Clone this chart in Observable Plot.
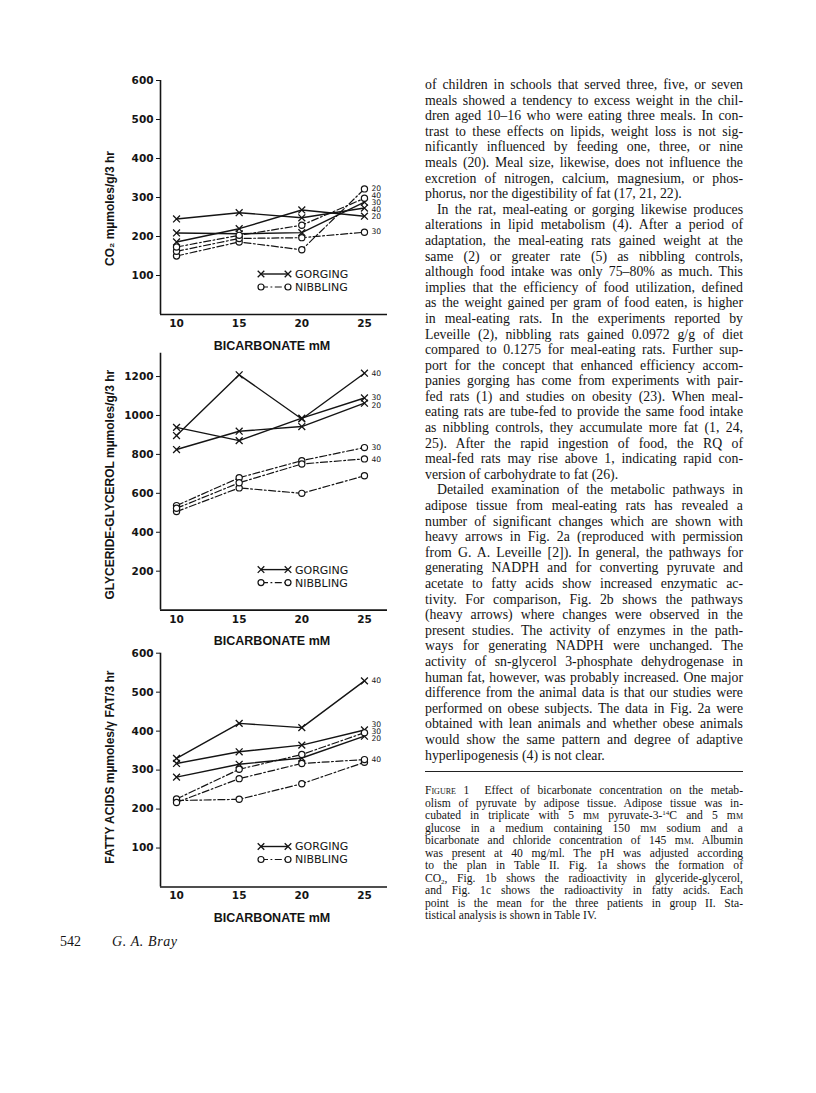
<!DOCTYPE html>
<html><head><meta charset="utf-8">
<script src="https://cdn.jsdelivr.net/npm/d3@7"></script>
<script src="https://cdn.jsdelivr.net/npm/@observablehq/plot@0.6"></script>
<style>
html,body{margin:0;padding:0;background:#fff;}
#page{position:relative;width:816px;height:1093px;overflow:hidden;background:#fff;color:#141414;}
.panel{position:absolute;left:70px;}
.col{position:absolute;left:425px;width:318px;font-family:"Liberation Serif","Times New Roman",serif;color:#141414;}
#body .ln{height:15.6px;line-height:15.6px;font-size:13.8px;text-align:justify;text-align-last:justify;}
#caption .ln{height:12.5px;line-height:12.5px;font-size:11.6px;text-align:justify;text-align-last:justify;}
.ln.last{text-align-last:left !important;}
.ln.ind{text-indent:12px;}
.sc{font-variant:small-caps;}
#rule{position:absolute;left:425px;width:318px;top:771px;height:0;border-top:1.5px solid #222;}
#footer{position:absolute;top:934px;left:60px;font-family:"Liberation Serif",serif;font-size:14px;color:#141414;}
#footer i{margin-left:31px;letter-spacing:0.6px;}
</style>
</head><body>
<div id="page">
  <div id="pa" class="panel" style="top:60px"></div>
  <div id="pb" class="panel" style="top:340px"></div>
  <div id="pc" class="panel" style="top:640px"></div>
  <div id="body" class="col" style="top:77px"></div>
  <div id="rule"></div>
  <div id="caption" class="col" style="top:785px"></div>
  <div id="footer">542<i>G. A. Bray</i></div>
</div>
<script>
// ---------- data ----------
const bicarbonate = [10, 15, 20, 25];
const xTicks = [10, 15, 20, 25];
const xDomain = [8.72, 26.84];

// Fig 1a  CO2 (mµmoles/g/3 hr)
const co2Gorging20 = [186, 220, 268, 252];
const co2Gorging30 = [209, 207, 210, 288];
const co2Gorging40 = [245, 261, 248, 273];
const co2Nibbling20 = [150, 186, 166, 322];
const co2Nibbling30 = [162, 195, 197, 211];
const co2Nibbling40 = [173, 203, 229, 298];
const co2Ticks = [100, 200, 300, 400, 500, 600];
const co2LabelText = ["20", "40", "30", "40", "20", "30"];
const co2LabelY = [324, 306, 288, 270, 252, 212];

// Fig 1b  glyceride-glycerol
const glyGorging20 = [825, 919, 943, 1063];
const glyGorging30 = [939, 871, 986, 1090];
const glyGorging40 = [897, 1209, 982, 1217];
const glyNibbling20 = [506, 628, 600, 690];
const glyNibbling30 = [537, 680, 768, 835];
const glyNibbling40 = [523, 654, 751, 777];
const glyTicks = [200, 400, 600, 800, 1000, 1200];
const glyLabelText = ["40", "30", "20", "30", "40"];
const glyLabelY = [1214, 1094, 1052, 833, 775];

// Fig 1c  fatty acids
const faGorging20 = [282, 315, 331, 387];
const faGorging30 = [317, 347, 364, 403];
const faGorging40 = [330, 420, 409, 529];
const faNibbling20 = [222, 225, 265, 320];
const faNibbling30 = [226, 302, 340, 396];
const faNibbling40 = [217, 278, 317, 327];
const faTicks = [100, 200, 300, 400, 500, 600];
const faLabelText = ["40", "30", "30", "20", "40"];
const faLabelY = [529, 417, 399, 381, 327];

const legendNames = ["GORGING", "NIBBLING"];
const xLabel = "BICARBONATE mM";

// ---------- helpers ----------
const INK = "#141414";
const DASH = "7,2.5,1.8,2.5";

function rows(values, group, conc) {
  return bicarbonate.map((x, i) => ({x, y: values[i], group, key: group + conc}));
}

function addLegend(svg, ml, fb) {
  const g = d3.select(svg).append("g").attr("fill", "none").attr("stroke", INK);
  legendNames.forEach((name, i) => {
    const y = fb - 40 + i * 13;
    const x1 = ml + 101, x2 = ml + 128;
    g.append("line").attr("x1", x1).attr("x2", x2).attr("y1", y).attr("y2", y)
      .attr("stroke-width", i ? 1.2 : 1.4).attr("stroke-dasharray", i ? DASH : null);
    [x1, x2].forEach(x => {
      if (i === 0) {
        g.append("path").attr("d", d3.symbol(d3.symbolTimes, 30)())
          .attr("transform", `translate(${x},${y})`).attr("stroke-width", 1.3);
      } else {
        g.append("circle").attr("cx", x).attr("cy", y).attr("r", 3)
          .attr("fill", "white").attr("stroke-width", 1.2);
      }
    });
    d3.select(svg).append("text").attr("x", ml + 135).attr("y", y).attr("dy", "0.36em")
      .attr("text-anchor", "start")
      .attr("fill", INK).attr("font-family", "DejaVu Sans, sans-serif").attr("font-size", 11)
      .text(name);
  });
}

function panel(el, cfg) {
  const data = cfg.series.flatMap(s => rows(s[0], s[1], s[2]));
  const gor = data.filter(d => d.group === "G");
  const nib = data.filter(d => d.group === "N");
  const labels = cfg.labelText.map((t, i) => ({x: bicarbonate[bicarbonate.length - 1], y: cfg.labelY[i], text: t}));
  const plot = Plot.plot({
    width: 340,
    height: cfg.height,
    marginLeft: 90,
    marginRight: 23,
    marginTop: cfg.marginTop,
    marginBottom: cfg.marginBottom,
    style: {background: "transparent", fontFamily: "DejaVu Sans, sans-serif", fontSize: "10.5px", color: INK, overflow: "visible"},
    x: {domain: xDomain, ticks: xTicks, tickSize: 0, tickPadding: 5, tickFormat: d => String(d), label: null},
    y: {domain: cfg.yDomain, ticks: cfg.yTicks, tickSize: 4, tickPadding: 3, tickFormat: d => String(d), label: null},
    marks: [
      Plot.ruleX([xDomain[0]], {stroke: INK, strokeWidth: 1.6}),
      Plot.ruleY([cfg.yDomain[0]], {stroke: INK, strokeWidth: 1.6}),
      Plot.line(gor, {x: "x", y: "y", z: "key", stroke: INK, strokeWidth: 1.4}),
      Plot.line(nib, {x: "x", y: "y", z: "key", stroke: INK, strokeWidth: 1.2, strokeDasharray: DASH}),
      Plot.dot(gor, {x: "x", y: "y", symbol: "times", r: 3.2, stroke: INK, strokeWidth: 1.3}),
      Plot.dot(nib, {x: "x", y: "y", r: 3.1, fill: "white", stroke: INK, strokeWidth: 1.2}),
      Plot.text(labels, {x: "x", y: "y", text: "text", dx: 7, textAnchor: "start", fontSize: 7.6, fill: INK}),
      Plot.text([cfg.yLabel], {frameAnchor: "left", textAnchor: "middle", rotate: -90, dx: -50, dy: cfg.yLabelDy,
        fontSize: 12, fontWeight: "bold", fontFamily: "Liberation Sans, Arial, sans-serif", fill: INK}),
      Plot.text([xLabel], {frameAnchor: "bottom", dy: 31, dx: -2, lineAnchor: "middle",
        fontSize: 12.5, fontWeight: "bold", fontFamily: "Liberation Sans Narrow, Liberation Sans, Arial, sans-serif", fill: INK})
    ]
  });
  d3.select(plot).selectAll("g[aria-label='y-axis tick label'] text, g[aria-label='x-axis tick label'] text")
    .attr("font-weight", "bold");
  addLegend(plot, 90, cfg.height - cfg.marginBottom);
  document.getElementById(el).appendChild(plot);
}

panel("pa", {
  series: [[co2Gorging20, "G", 20], [co2Gorging30, "G", 30], [co2Gorging40, "G", 40],
           [co2Nibbling20, "N", 20], [co2Nibbling30, "N", 30], [co2Nibbling40, "N", 40]],
  labelText: co2LabelText, labelY: co2LabelY,
  yDomain: [0, 600], yTicks: co2Ticks, yLabel: "CO\u2082 m\u00b5moles/g/3 hr", yLabelDy: 11,
  height: 300, marginTop: 20, marginBottom: 46
});
panel("pb", {
  series: [[glyGorging20, "G", 20], [glyGorging30, "G", 30], [glyGorging40, "G", 40],
           [glyNibbling20, "N", 20], [glyNibbling30, "N", 30], [glyNibbling40, "N", 40]],
  labelText: glyLabelText, labelY: glyLabelY,
  yDomain: [0, 1320], yTicks: glyTicks, yLabel: "GLYCERIDE-GLYCEROL m\u00b5moles/g/3 hr", yLabelDy: 3,
  height: 315, marginTop: 12.7, marginBottom: 45.4
});
panel("pc", {
  series: [[faGorging20, "G", 20], [faGorging30, "G", 30], [faGorging40, "G", 40],
           [faNibbling20, "N", 20], [faNibbling30, "N", 30], [faNibbling40, "N", 40]],
  labelText: faLabelText, labelY: faLabelY,
  yDomain: [0, 600], yTicks: faTicks, yLabel: "FATTY ACIDS m\u00b5moles/\u03b3 FAT/3 hr", yLabelDy: -3,
  height: 290, marginTop: 12.7, marginBottom: 43.5
});

// ---------- text column ----------
const bodyLines = [
  "of children in schools that served three, five, or seven",
  "meals showed a tendency to excess weight in the chil-",
  "dren aged 10\u201316 who were eating three meals. In con-",
  "trast to these effects on lipids, weight loss is not sig-",
  "nificantly influenced by feeding one, three, or nine",
  "meals (20). Meal size, likewise, does not influence the",
  "excretion of nitrogen, calcium, magnesium, or phos-",
  "*phorus, nor the digestibility of fat (17, 21, 22).",
  ">In the rat, meal-eating or gorging likewise produces",
  "alterations in lipid metabolism (4). After a period of",
  "adaptation, the meal-eating rats gained weight at the",
  "same (2) or greater rate (5) as nibbling controls,",
  "although food intake was only 75\u201380% as much. This",
  "implies that the efficiency of food utilization, defined",
  "as the weight gained per gram of food eaten, is higher",
  "in meal-eating rats. In the experiments reported by",
  "Leveille (2), nibbling rats gained 0.0972 g/g of diet",
  "compared to 0.1275 for meal-eating rats. Further sup-",
  "port for the concept that enhanced efficiency accom-",
  "panies gorging has come from experiments with pair-",
  "fed rats (1) and studies on obesity (23). When meal-",
  "eating rats are tube-fed to provide the same food intake",
  "as nibbling controls, they accumulate more fat (1, 24,",
  "25). After the rapid ingestion of food, the RQ of",
  "meal-fed rats may rise above 1, indicating rapid con-",
  "*version of carbohydrate to fat (26).",
  ">Detailed examination of the metabolic pathways in",
  "adipose tissue from meal-eating rats has revealed a",
  "number of significant changes which are shown with",
  "heavy arrows in Fig. 2a (reproduced with permission",
  "from G. A. Leveille [2]). In general, the pathways for",
  "generating NADPH and for converting pyruvate and",
  "acetate to fatty acids show increased enzymatic ac-",
  "tivity. For comparison, Fig. 2b shows the pathways",
  "(heavy arrows) where changes were observed in the",
  "present studies. The activity of enzymes in the path-",
  "ways for generating NADPH were unchanged. The",
  "activity of sn-glycerol 3-phosphate dehydrogenase in",
  "human fat, however, was probably increased. One major",
  "difference from the animal data is that our studies were",
  "performed on obese subjects. The data in Fig. 2a were",
  "obtained with lean animals and whether obese animals",
  "would show the same pattern and degree of adaptive",
  "*hyperlipogenesis (4) is not clear."
];
const captionLines = [
  "<span class='sc'>Figure</span> 1&nbsp;&nbsp;Effect of bicarbonate concentration on the metab-",
  "olism of pyruvate by adipose tissue. Adipose tissue was in-",
  "cubated in triplicate with 5 m<span class='sc'>m</span> pyruvate-3-<sup style='font-size:7px;vertical-align:4px;line-height:0'>14</sup>C and 5 m<span class='sc'>m</span>",
  "glucose in a medium containing 150 m<span class='sc'>m</span> sodium and a",
  "bicarbonate and chloride concentration of 145 m<span class='sc'>m</span>. Albumin",
  "was present at 40 mg/ml. The pH was adjusted according",
  "to the plan in Table II. Fig. 1a shows the formation of",
  "CO<sub style='font-size:7px;vertical-align:-2px;line-height:0'>2</sub>, Fig. 1b shows the radioactivity in glyceride-glycerol,",
  "and Fig. 1c shows the radioactivity in fatty acids. Each",
  "point is the mean for the three patients in group II. Sta-",
  "*tistical analysis is shown in Table IV."
];
function fill(id, lines) {
  const host = document.getElementById(id);
  for (let s of lines) {
    const d = document.createElement("div");
    d.className = "ln";
    if (s[0] === "*") { d.className += " last"; s = s.slice(1); }
    if (s[0] === ">") { d.className += " ind"; s = s.slice(1); }
    d.innerHTML = s;
    host.appendChild(d);
  }
}
fill("body", bodyLines);
fill("caption", captionLines);
</script>
</body></html>
